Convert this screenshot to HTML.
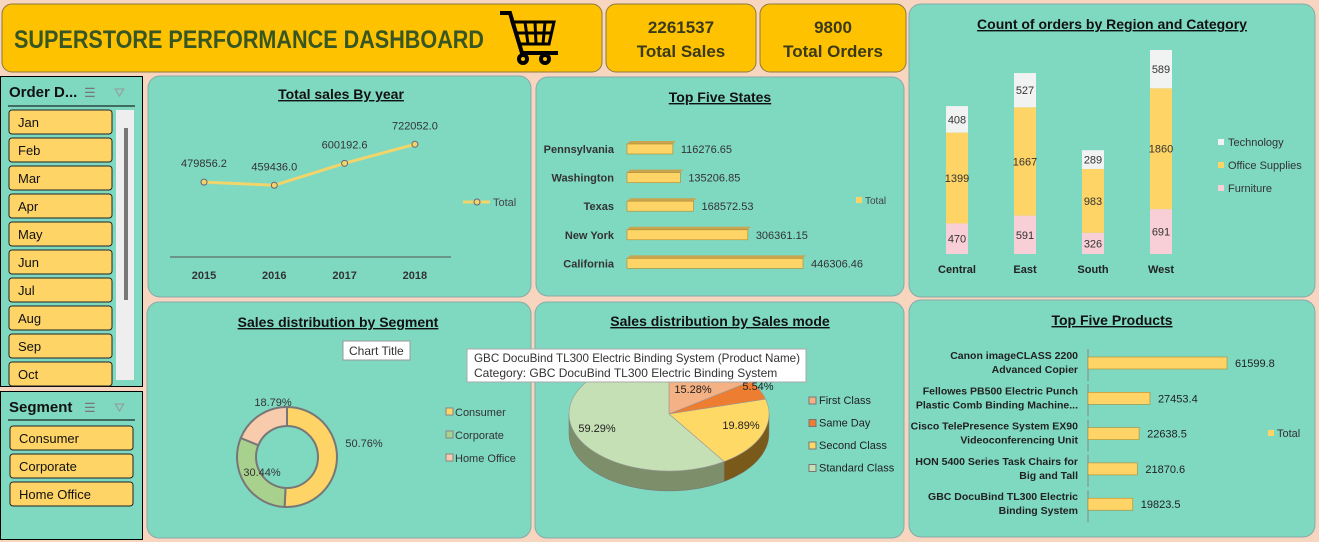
<!DOCTYPE html>
<html><head><meta charset="utf-8"><style>
body{margin:0;background:#f8d5bf;font-family:"Liberation Sans",sans-serif}
svg{display:block}
text{font-family:"Liberation Sans",sans-serif}
</style></head><body>
<svg id="s" width="1319" height="542" viewBox="0 0 1319 542">
<rect width="1319" height="542" fill="#f8d5bf"/>
<g>
<rect x="2" y="4" width="600" height="68" rx="10" fill="#fec200" stroke="#8a7a40"/>
<text x="14" y="48" font-size="25" font-weight="bold" fill="#375623" textLength="470" lengthAdjust="spacingAndGlyphs">SUPERSTORE PERFORMANCE DASHBOARD</text>
<g fill="none" stroke="#000" stroke-width="4" transform="translate(102,0)">
<path d="M398 13 h10 l12 40 h36"/><path d="M410 22 h42 l-5 22 h-30 z" stroke-width="3"/>
<line x1="423" y1="22" x2="426" y2="44" stroke-width="3"/><line x1="433" y1="22" x2="434" y2="44" stroke-width="3"/><line x1="443" y1="22" x2="441" y2="44" stroke-width="3"/>
<line x1="414" y1="33" x2="449" y2="33" stroke-width="3"/>
<circle cx="421" cy="59" r="4"/><circle cx="443" cy="59" r="4"/>
</g>
</g>
<g>
<rect x="606" y="4" width="150" height="68" rx="10" fill="#fec200" stroke="#8a7a40"/>
<text x="681" y="33" font-size="17" font-weight="bold" fill="#3a3a1a" text-anchor="middle">2261537</text>
<text x="681" y="57" font-size="17" font-weight="bold" fill="#3a3a1a" text-anchor="middle">Total Sales</text>
</g>
<g>
<rect x="760" y="4" width="146" height="68" rx="10" fill="#fec200" stroke="#8a7a40"/>
<text x="833" y="33" font-size="17" font-weight="bold" fill="#3a3a1a" text-anchor="middle">9800</text>
<text x="833" y="57" font-size="17" font-weight="bold" fill="#3a3a1a" text-anchor="middle">Total Orders</text>
</g>
<rect x="909" y="4" width="406" height="293" rx="12" fill="#7fd8c0" stroke="#8aa"/>
<rect x="148" y="76" width="383" height="221" rx="12" fill="#7fd8c0" stroke="#8aa"/>
<rect x="536" y="77" width="368" height="219" rx="12" fill="#7fd8c0" stroke="#8aa"/>
<rect x="147" y="302" width="384" height="236" rx="12" fill="#7fd8c0" stroke="#8aa"/>
<rect x="535" y="302" width="369" height="236" rx="12" fill="#7fd8c0" stroke="#8aa"/>
<rect x="909" y="300" width="406" height="237" rx="12" fill="#7fd8c0" stroke="#8aa"/>
<g>
<rect x="0.5" y="76.5" width="142" height="310" fill="#7fd8c0" stroke="#000"/>
<text x="9" y="97" font-size="15" font-weight="bold" fill="#111">Order D...</text>
<text x="84" y="97" font-size="13" fill="#777">☰</text>
<text x="114" y="97" font-size="13" fill="#999">⛛</text>
<line x1="8" y1="106" x2="135" y2="106" stroke="#000"/>
<rect x="116" y="110" width="18" height="270" fill="#eee"/>
<rect x="124" y="128" width="4" height="172" fill="#777"/>
<g id="months"></g>
</g>
<g>
<rect x="0.5" y="391.5" width="142" height="148" fill="#7fd8c0" stroke="#000"/>
<text x="9" y="412" font-size="15" font-weight="bold" fill="#111">Segment</text>
<text x="84" y="412" font-size="13" fill="#777">☰</text>
<text x="114" y="412" font-size="13" fill="#999">⛛</text>
<line x1="8" y1="420" x2="135" y2="420" stroke="#000"/>
<g id="segs"></g>
</g>
<g font-size="14" font-weight="bold" fill="#111" text-anchor="middle" text-decoration="underline">
<text x="341" y="99">Total sales By year</text>
<text x="720" y="102">Top Five States</text>
<text x="1112" y="29">Count of orders by Region and Category</text>
<text x="338" y="327">Sales distribution by Segment</text>
<text x="720" y="326">Sales distribution by Sales mode</text>
<text x="1112" y="325">Top Five Products</text>
</g>
<g id="line"></g><g id="states"></g><g id="region"></g><g id="donut"></g><g id="pie"></g><g id="prods"></g>
<g>
<rect x="343" y="341" width="67" height="19" fill="#fff" stroke="#999"/>
<text x="349" y="355" font-size="12" fill="#333">Chart Title</text>
</g>
<g>
<rect x="467" y="349" width="339" height="33" fill="#fff" stroke="#aaa"/>
<text x="474" y="362" font-size="12" fill="#333" textLength="326" lengthAdjust="spacingAndGlyphs">GBC DocuBind TL300 Electric Binding System (Product Name)</text>
<text x="474" y="377" font-size="12" fill="#333">Category: GBC DocuBind TL300 Electric Binding System</text>
</g>
</svg>
<script>
const NS="http://www.w3.org/2000/svg";
function mk(p,tag,a,txt){const e=document.createElementNS(NS,tag);for(const k in a)e.setAttribute(k,a[k]);if(txt!==undefined)e.textContent=txt;p.appendChild(e);return e;}
const months=["Jan","Feb","Mar","Apr","May","Jun","Jul","Aug","Sep","Oct"];
const segments=["Consumer","Corporate","Home Office"];
const years=["2015","2016","2017","2018"];
const yearSales=[479856.2,459436.0,600192.6,722052.0];
const states=["Pennsylvania","Washington","Texas","New York","California"];
const stateSales=[116276.65,135206.85,168572.53,306361.15,446306.46];
const regions=["Central","East","South","West"];
const furniture=[470,591,326,691];
const office=[1399,1667,983,1860];
const tech=[408,527,289,589];
const segLabels=["Consumer","Corporate","Home Office"];
const segShare=[50.76,30.44,18.79];
const modes=["First Class","Same Day","Second Class","Standard Class"];
const modeShare=[15.28,5.54,19.89,59.29];
const products=[["Canon imageCLASS 2200","Advanced Copier"],["Fellowes PB500 Electric Punch","Plastic Comb Binding Machine..."],["Cisco TelePresence System EX90","Videoconferencing Unit"],["HON 5400 Series Task Chairs for","Big and Tall"],["GBC DocuBind TL300 Electric","Binding System"]];
const productSales=[61599.8,27453.4,22638.5,21870.6,19823.5];

const mg=document.getElementById('months');
months.forEach((m,i)=>{const y=110+i*28;
 const r=mk(mg,'rect',{x:9,y:y,width:103,height:24,rx:3,fill:'#fed466',stroke:'#222'});
 
 
 mk(mg,'text',{x:18,y:y+17,'font-size':13,fill:'#111'},m);});
const sg=document.getElementById('segs');
segments.forEach((m,i)=>{const y=426+i*28;
 const r=mk(sg,'rect',{x:10,y:y,width:123,height:24,rx:3,fill:'#fed466',stroke:'#222'});
 
 
 mk(sg,'text',{x:19,y:y+17,'font-size':13,fill:'#111'},m);});

const lg=document.getElementById('line');
const lx=i=>204+i*70.3, ly=v=>257-v*112.7/722052;
mk(lg,'line',{x1:170,y1:257,x2:451,y2:257,stroke:'#555'});
let d=yearSales.map((v,i)=>(i?'L':'M')+lx(i)+' '+ly(v)).join(' ');
const pl=mk(lg,'path',{d:d,fill:'none',stroke:'#f2d56a','stroke-width':3});


yearSales.forEach((v,i)=>{
 const c=mk(lg,'circle',{cx:lx(i),cy:ly(v),r:3,fill:'#f2d56a',stroke:'#667'});
 
 
 mk(lg,'text',{x:lx(i),y:ly(v)-15,'font-size':11,fill:'#333','text-anchor':'middle'},v.toFixed(1));
 mk(lg,'text',{x:lx(i),y:279,'font-size':11,'font-weight':'bold',fill:'#333','text-anchor':'middle'},years[i]);});
mk(lg,'line',{x1:463,y1:202,x2:490,y2:202,stroke:'#f2d56a','stroke-width':3});
mk(lg,'circle',{cx:477,cy:202,r:3,fill:'#f2d56a',stroke:'#667'});
mk(lg,'text',{x:493,y:206,'font-size':11,fill:'#444'},'Total');

const st=document.getElementById('states');
const sx=v=>v*176/446306.46;
states.forEach((s,i)=>{const y=142+i*28.6,w=sx(stateSales[i]);
 mk(st,'text',{x:614,y:y+11,'font-size':11,'font-weight':'bold',fill:'#333','text-anchor':'end'},s);
 mk(st,'path',{d:`M627 ${y+2} l3 -3 h${w} l-3 3 z`,fill:'#c9a550'});
 const b=mk(st,'rect',{x:627,y:y+2,width:w,height:10,fill:'#fed466',stroke:'#b08a30','stroke-width':0.6});
 
 
 mk(st,'text',{x:627+w+8,y:y+11,'font-size':11,fill:'#333'},stateSales[i].toFixed(2).replace(/0$/,'').replace(/\.$/,''));});
mk(st,'rect',{x:856,y:197,width:6,height:6,fill:'#fed466'});
mk(st,'text',{x:865,y:204,'font-size':10,fill:'#444'},'Total');

const rg=document.getElementById('region');
const rs=v=>v*204/3140, base=254;
regions.forEach((r,i)=>{const cx=957+i*68,x=cx-11;let y=base;
 [[furniture,'#f8cfd6','furniture'],[office,'#fed466','office'],[tech,'#f0f3f2','technology']].forEach(([arr,col,nm])=>{
  const h=rs(arr[i]);y-=h;
  const b=mk(rg,'rect',{x:x,y:y,width:22,height:h,fill:col});
  
  
  mk(rg,'text',{x:cx,y:y+h/2+4,'font-size':11,fill:'#333','text-anchor':'middle'},arr[i]);});
 mk(rg,'text',{x:cx,y:273,'font-size':11,'font-weight':'bold',fill:'#222','text-anchor':'middle'},r);});
[['Technology','#f0f3f2'],['Office Supplies','#fed466'],['Furniture','#f8cfd6']].forEach(([n,c],i)=>{
 mk(rg,'rect',{x:1218,y:139+i*23,width:6,height:6,fill:c});
 mk(rg,'text',{x:1228,y:146+i*23,'font-size':11,fill:'#333'},n);});

const dg=document.getElementById('donut');
const dcx=287,dcy=457,R=50,r0=31;
const segCol=['#fed466','#a9d18e','#f8cbad'];
const segLabPos=[[364,447],[262,476],[273,406]];
let tot=segShare.reduce((a,b)=>a+b,0),a0=-Math.PI/2;
segShare.forEach((v,i)=>{const a1=a0+v/tot*2*Math.PI,lg2=(a1-a0)>Math.PI?1:0;
 const p=(rr,a)=>`${dcx+rr*Math.cos(a)} ${dcy+rr*Math.sin(a)}`;
 const e=mk(dg,'path',{d:`M${p(R,a0)} A${R} ${R} 0 ${lg2} 1 ${p(R,a1)} L${p(r0,a1)} A${r0} ${r0} 0 ${lg2} 0 ${p(r0,a0)} Z`,fill:segCol[i],stroke:'#777','stroke-width':2});
 
 
 mk(dg,'text',{x:segLabPos[i][0],y:segLabPos[i][1],'font-size':11,fill:'#333','text-anchor':'middle'},v.toFixed(2)+'%');
 a0=a1;});
segLabels.forEach((n,i)=>{mk(dg,'rect',{x:446,y:408+i*23,width:7,height:7,fill:segCol[i],stroke:'#888'});
 mk(dg,'text',{x:455,y:416+i*23,'font-size':11,fill:'#333'},n);});

const pg=document.getElementById('pie');
const pcx=669,pcy=414,prx=100,pry=57,dep=20;
const pieTop=['#f4b183','#ed7d31','#ffd966','#c5e0b4'],pieSide=['#a06a40','#a04e15','#7a5a1a','#7d8e6a'];
let ptot=modeShare.reduce((a,b)=>a+b,0);
let angs=[];a0=-Math.PI/2;modeShare.forEach(v=>{const a1=a0+v/ptot*2*Math.PI;angs.push([a0,a1]);a0=a1;});
const P=(a,dy)=>`${pcx+prx*Math.cos(a)} ${pcy+pry*Math.sin(a)+dy}`;
angs.forEach(([s,e],i)=>{for(let k=-1;k<=1;k++){const lo=Math.max(s,k*2*Math.PI),hi=Math.min(e,k*2*Math.PI+Math.PI);
 if(hi>lo){mk(pg,'path',{d:`M${P(lo,0)} A${prx} ${pry} 0 0 1 ${P(hi,0)} L${P(hi,dep)} A${prx} ${pry} 0 0 0 ${P(lo,dep)} Z`,fill:pieSide[i],stroke:'#777','stroke-width':0.5});}}});
angs.forEach(([s,e],i)=>{const lg3=(e-s)>Math.PI?1:0;
 const el=mk(pg,'path',{d:`M${pcx} ${pcy} L${P(s,0)} A${prx} ${pry} 0 ${lg3} 1 ${P(e,0)} Z`,fill:pieTop[i],stroke:'#999','stroke-width':0.6});
 
 });
const plab=[[693,393],[758,390],[741,429],[597,432]];
modeShare.forEach((v,i)=>mk(pg,'text',{x:plab[i][0],y:plab[i][1],'font-size':11,fill:'#222','text-anchor':'middle'},v.toFixed(2)+'%'));
modes.forEach((n,i)=>{mk(pg,'rect',{x:809,y:397+i*22.5,width:7,height:7,fill:pieTop[i],stroke:'#777'});
 mk(pg,'text',{x:819,y:404+i*22.5,'font-size':11,fill:'#222'},n);});

const pr=document.getElementById('prods');
const px=v=>v*139/61599.8;
products.forEach((p,i)=>{const y=363+i*35.3,w=px(productSales[i]);
 mk(pr,'text',{x:1078,y:y-4,'font-size':10.5,'font-weight':'bold',fill:'#222','text-anchor':'end'},p[0]);
 mk(pr,'text',{x:1078,y:y+10,'font-size':10.5,'font-weight':'bold',fill:'#222','text-anchor':'end'},p[1]);
 mk(pr,'line',{x1:1088,y1:y-14,x2:1088,y2:y+18,stroke:'#888'});
 const b=mk(pr,'rect',{x:1088,y:y-6,width:w,height:12,fill:'#fed466',stroke:'#b08a30','stroke-width':0.6});
 
 
 mk(pr,'text',{x:1088+w+8,y:y+4,'font-size':11,fill:'#222'},productSales[i].toFixed(1));});
mk(pr,'rect',{x:1268,y:430,width:6,height:6,fill:'#fed466'});
mk(pr,'text',{x:1277,y:437,'font-size':11,fill:'#333'},'Total');
</script>
</body></html>
